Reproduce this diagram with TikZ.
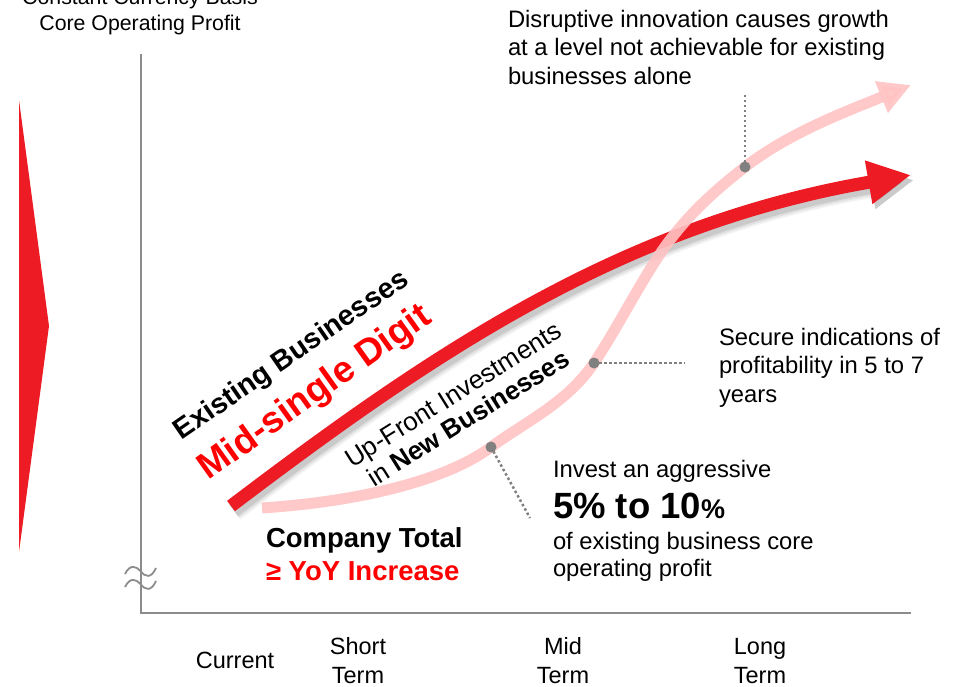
\documentclass[tikz,border=0pt]{standalone}
\usepackage{fontspec}
\setmainfont{Liberation Sans}
\usetikzlibrary{arrows.meta}
\definecolor{trired}{HTML}{ED1C24}
\definecolor{redc}{HTML}{ED1C24}
\definecolor{pinkc}{HTML}{FFC3C3}
\definecolor{textred}{HTML}{FF0000}
\definecolor{dotgray}{HTML}{808080}
\definecolor{axisgray}{HTML}{8C8C8C}
\newcommand{\mylines}[2]{\begin{tabular}[t]{@{}#1@{}}#2\end{tabular}}
\newcommand{\fs}[2]{\fontsize{#1}{#2}\selectfont}
\begin{document}
\begin{tikzpicture}[x=1pt,y=-1pt,
  txt/.style={inner sep=0pt, outer sep=0pt},
  dotline/.style={dotgray, line width=2.5pt, dash pattern=on 2.5pt off 2.5pt},
  dotmark/.style={fill=dotgray},
  axisline/.style={axisgray, line width=2.5pt},
  breakline/.style={axisgray, line width=1.8pt}]
\useasboundingbox (0,0) rectangle (964,686);
% red side triangle
\fill[trired] (19,100) -- (49,326) -- (19,552) -- cycle;
% axes
\draw[axisline] (141,54) -- (141,613) -- (911,613);
% axis break
\draw[breakline] (125,574) .. controls (130,564) and (136,566) .. (140.5,571) .. controls (145,577) and (151,579) .. (156,568);
\draw[breakline] (125,587) .. controls (130,577) and (136,579) .. (140.5,584) .. controls (145,590) and (151,592) .. (156,581);
% red arrow shadow
\begin{scope}[shift={(3,5)}]
\foreach \w/\o in {21/0.05,17/0.07,13/0.10}
  \draw[black, opacity=\o, line width=\w pt, -{Triangle[length=43pt,width=41pt]}] (231,506) .. controls (430,355) and (620,225) .. (911,175);
\end{scope}
% red arrow
\draw[redc, line width=13pt, -{Triangle[length=43pt,width=41pt]}] (231,506) .. controls (430,355) and (620,225) .. (911,175);
% pink arrow
\draw[pinkc, line width=11pt, opacity=0.9, -{Triangle[length=32pt,width=32pt]}] (262,508) .. controls (380,500) and (455,474) .. (491,447) .. controls (525,422) and (567,403) .. (594,363) .. controls (620,324) and (646,271) .. (670,240) .. controls (692,211) and (718,188) .. (745,167) .. controls (790,132) and (850,110) .. (911,85);
% callout dots and dotted leaders
\coordinate (d1) at (491,447);
\coordinate (d2) at (594,363);
\coordinate (d3) at (745,167);
\coordinate (e1) at (530,518);
\coordinate (e2) at (685,363);
\coordinate (e3) at (745,95);
\draw[dotline] (d1) -- (e1);
\draw[dotline] (d2) -- (e2);
\draw[dotline] (d3) -- (e3);
\fill[dotmark] (d1) circle[radius=5.5pt];
\fill[dotmark] (d2) circle[radius=5.5pt];
\fill[dotmark] (d3) circle[radius=5.5pt];
% texts
\node[txt, anchor=base] (ylab) at (140,4) {\fs{21.3}{26}\mylines{c}{Constant Currency Basis\\Core Operating Profit}};
\node[txt, anchor=base west] (dis) at (508,27) {\fs{23.8}{28.5}\mylines{l}{Disruptive innovation causes growth\\at a level not achievable for existing\\businesses alone}};
\node[txt, anchor=base west] (sec) at (719,345) {\fs{23.8}{28.5}\mylines{l}{Secure indications of\\profitability in 5 to 7\\years}};
\node[txt, anchor=base west] (inv) at (553,477) {\fs{23.8}{28}Invest an aggressive};
\node[txt, anchor=base west] (pct) at (553,518) {\bfseries\fs{36.5}{40}5\% to 10\fs{27}{30}\%};
\node[txt, anchor=base west] (ofx) at (553,549) {\fs{23.8}{27}\mylines{l}{of existing business core\\operating profit}};
\node[txt, anchor=base west] (ct) at (266,547) {\bfseries\fs{27.5}{33}Company Total};
\node[txt, anchor=base west, text=textred] (yoy) at (266,580) {\bfseries\fs{27.5}{33}≥ YoY Increase};
\node[txt, anchor=base, rotate=34.5] (eb) at (296,362) {\bfseries\fs{28.5}{33}Existing Businesses};
\node[txt, anchor=base, rotate=35.5, text=textred] (msd) at (321,401) {\bfseries\fs{37}{40}Mid-single Digit};
\node[txt, anchor=base, rotate=32] (uf) at (458,402) {\fs{26}{28}\mylines{c}{Up-Front Investments\\in \textbf{New Businesses}}};
\node[txt, anchor=base] (cur) at (235,668) {\fs{23.5}{29}Current};
\node[txt, anchor=base] (st) at (358,654) {\fs{23.5}{29}\mylines{c}{Short\\Term}};
\node[txt, anchor=base] (mt) at (563,654) {\fs{23.5}{29}\mylines{c}{Mid\\Term}};
\node[txt, anchor=base] (lt) at (760,654) {\fs{23.5}{29}\mylines{c}{Long\\Term}};
\end{tikzpicture}
\end{document}
